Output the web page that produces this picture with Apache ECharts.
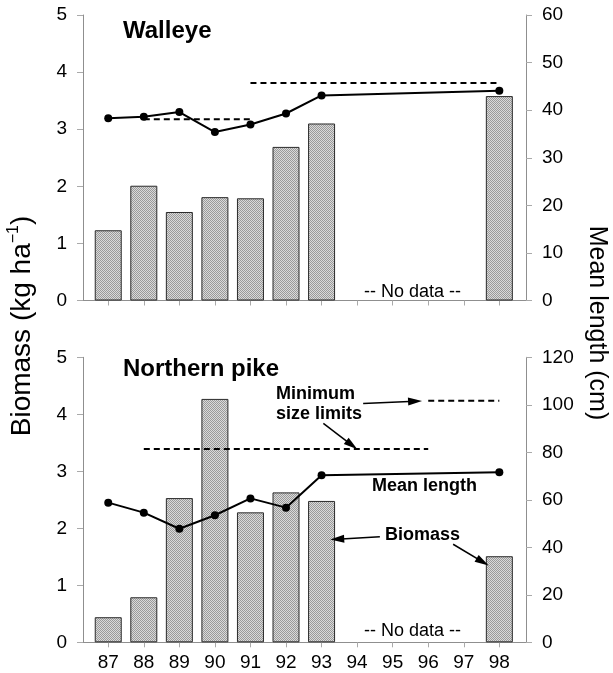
<!DOCTYPE html>
<html><head><meta charset="utf-8">
<script src="https://cdn.jsdelivr.net/npm/echarts@6/dist/echarts.min.js"></script>
<style>html,body{margin:0;padding:0;background:#fff}#c{width:613px;height:673px}</style>
</head><body><div id="c"></div>
<script>
// ---- data ----
const years = [87, 88, 89, 90, 91, 92, 93, 98];
const xTickValues = [87, 88, 89, 90, 91, 92, 93, 94, 95, 96, 97, 98];
const walleyeBiomass = [1.23, 2.01, 1.55, 1.81, 1.79, 2.69, 3.10, 3.58];
const walleyeLength = [38.3, 38.6, 39.6, 35.4, 37.0, 39.3, 43.1, 44.1];
const walleyeLimitSpans = [[88, 91], [91, 98]];
const walleyeLimitValues = [38.1, 45.7];
const pikeBiomass = [0.44, 0.79, 2.53, 4.27, 2.28, 2.63, 2.48, 1.51];
const pikeLength = [58.8, 54.6, 47.8, 53.5, 60.6, 56.7, 70.3, 71.6];
const pikeLimitSpans = [[88, 96], [96, 98]];
const pikeLimitValues = [81.4, 101.7];
const biomassTicks = [0, 1, 2, 3, 4, 5];
const walleyeLengthTicks = [0, 10, 20, 30, 40, 50, 60];
const pikeLengthTicks = [0, 20, 40, 60, 80, 100, 120];
// annotation arrows in (year, biomass) coordinates of the pike panel
const pikeArrows = [
  [[94.17, 4.19], [95.63, 4.23]],
  [[93.05, 3.84], [93.85, 3.46]],
  [[94.64, 1.85], [93.44, 1.81]],
  [[96.70, 1.72], [97.53, 1.41]]
];

// ---- style ----
const FONT = '"Liberation Sans", Arial, Helvetica, sans-serif';
const pat = document.createElement('canvas');
pat.width = 2; pat.height = 2;
const pctx = pat.getContext('2d');
pctx.fillStyle = '#dadada'; pctx.fillRect(0, 0, 2, 2);
pctx.fillStyle = '#9a9a9a'; pctx.fillRect(0, 0, 1, 1); pctx.fillRect(1, 1, 1, 1);
const barColor = { image: pat, repeat: 'repeat' };

const chart = echarts.init(document.getElementById('c'), null, { renderer: 'canvas' });

const AXIS_GRAY = '#8f8f8f';
function xAxisDef(gridIndex, showLabels) {
  return {
    type: 'value', gridIndex, min: 86.29, max: 98.75,
    axisLine: { show: true, lineStyle: { color: AXIS_GRAY, width: 1 } },
    axisTick: { show: true, customValues: xTickValues, length: 5, lineStyle: { color: '#aaa' } },
    axisLabel: { show: showLabels, customValues: xTickValues, fontSize: 19, color: '#000', fontFamily: FONT, margin: 11 },
    splitLine: { show: false }
  };
}
function yAxisDef(gridIndex, pos, ticks) {
  const max = ticks[ticks.length - 1];
  return {
    type: 'value', gridIndex, position: pos, min: 0, max, interval: ticks[1] - ticks[0],
    axisLine: { show: true, lineStyle: { color: AXIS_GRAY, width: 1 } },
    axisTick: { show: true, length: 6, lineStyle: { color: '#aaa' } },
    axisLabel: { fontSize: 19, color: '#000', fontFamily: FONT, margin: 16 },
    splitLine: { show: false }
  };
}
function pairs(xs, ys) { return xs.map((x, i) => [x, ys[i]]); }
function barSeries(xi, yi, vals, extra) {
  return Object.assign({
    type: 'bar', xAxisIndex: xi, yAxisIndex: yi, barWidth: 27,
    data: pairs(years, vals),
    itemStyle: { color: barColor, borderColor: '#2a2a2a', borderWidth: 1 },
    silent: true, z: 2
  }, extra || {});
}
function lineSeries(xi, yi, vals) {
  return {
    type: 'line', xAxisIndex: xi, yAxisIndex: yi, data: pairs(years, vals),
    symbol: 'circle', symbolSize: 8, itemStyle: { color: '#000' },
    lineStyle: { color: '#000', width: 2 }, silent: true, z: 5
  };
}
function limitSeries(xi, yi, spans, vals) {
  return spans.map((s, i) => ({
    type: 'line', xAxisIndex: xi, yAxisIndex: yi,
    data: [[s[0], vals[i]], [s[1], vals[i]]],
    symbol: 'none', lineStyle: { color: '#000', width: 2, type: [6, 4] }, silent: true, z: 4
  }));
}

const option = {
  animation: false,
  backgroundColor: '#fff',
  grid: [
    { left: 83, right: 87, top: 15, height: 285.5, containLabel: false },
    { left: 83, right: 87, top: 357.3, height: 285, containLabel: false }
  ],
  xAxis: [xAxisDef(0, false), xAxisDef(1, true)],
  yAxis: [
    yAxisDef(0, 'left', biomassTicks),
    yAxisDef(0, 'right', walleyeLengthTicks),
    yAxisDef(1, 'left', biomassTicks),
    yAxisDef(1, 'right', pikeLengthTicks)
  ],
  series: [
    barSeries(0, 0, walleyeBiomass),
    lineSeries(0, 1, walleyeLength),
    ...limitSeries(0, 1, walleyeLimitSpans, walleyeLimitValues),
    barSeries(1, 2, pikeBiomass, {
      markLine: {
        silent: true, animation: false,
        symbol: ['none', 'triangle'], symbolSize: 10,
        label: { show: false },
        lineStyle: { color: '#000', width: 1.5, type: 'solid' },
        itemStyle: { color: '#000' },
        emphasis: { disabled: true },
        data: pikeArrows.map(a => [
          { coord: a[0], symbol: 'none' },
          { coord: a[1], symbol: 'triangle', symbolSize: [8, 14] }
        ])
      }
    }),
    lineSeries(1, 3, pikeLength),
    ...limitSeries(1, 3, pikeLimitSpans, pikeLimitValues)
  ],
  graphic: [
    { type: 'text', x: 123, y: 31.7, style: { text: 'Walleye', font: 'bold 24px ' + FONT, fill: '#000', textAlign: 'left', textVerticalAlign: 'middle' } },
    { type: 'text', x: 123, y: 369.5, style: { text: 'Northern pike', font: 'bold 24px ' + FONT, fill: '#000', textAlign: 'left', textVerticalAlign: 'middle' } },
    { type: 'text', x: 276, y: 394.5, style: { text: 'Minimum', font: 'bold 18px ' + FONT, fill: '#000', textAlign: 'left', textVerticalAlign: 'middle' } },
    { type: 'text', x: 276, y: 414.5, style: { text: 'size limits', font: 'bold 18px ' + FONT, fill: '#000', textAlign: 'left', textVerticalAlign: 'middle' } },
    { type: 'text', x: 372, y: 486.5, style: { text: 'Mean length', font: 'bold 18px ' + FONT, fill: '#000', textAlign: 'left', textVerticalAlign: 'middle' } },
    { type: 'text', x: 385, y: 535, style: { text: 'Biomass', font: 'bold 18px ' + FONT, fill: '#000', textAlign: 'left', textVerticalAlign: 'middle' } },
    { type: 'text', x: 412.5, y: 292.5, style: { text: '-- No data --', font: '18px ' + FONT, fill: '#000', textAlign: 'center', textVerticalAlign: 'middle' } },
    { type: 'text', x: 412.5, y: 631.5, style: { text: '-- No data --', font: '18px ' + FONT, fill: '#000', textAlign: 'center', textVerticalAlign: 'middle' } },
    { type: 'text', x: 22, y: 326, rotation: Math.PI / 2,
      style: { text: '{a|Biomass (kg ha}{s|−1}{a|)}', fill: '#000', textAlign: 'center', textVerticalAlign: 'middle',
        rich: { a: { fontSize: 28, fontFamily: FONT, lineHeight: 32 }, s: { fontSize: 16, fontFamily: FONT, verticalAlign: 'top', lineHeight: 32 } } } },
    { type: 'text', x: 597, y: 323, rotation: -Math.PI / 2,
      style: { text: 'Mean length (cm)', font: '25px ' + FONT, fill: '#000', textAlign: 'center', textVerticalAlign: 'middle' } }
  ]
};
chart.setOption(option);
</script></body></html>
